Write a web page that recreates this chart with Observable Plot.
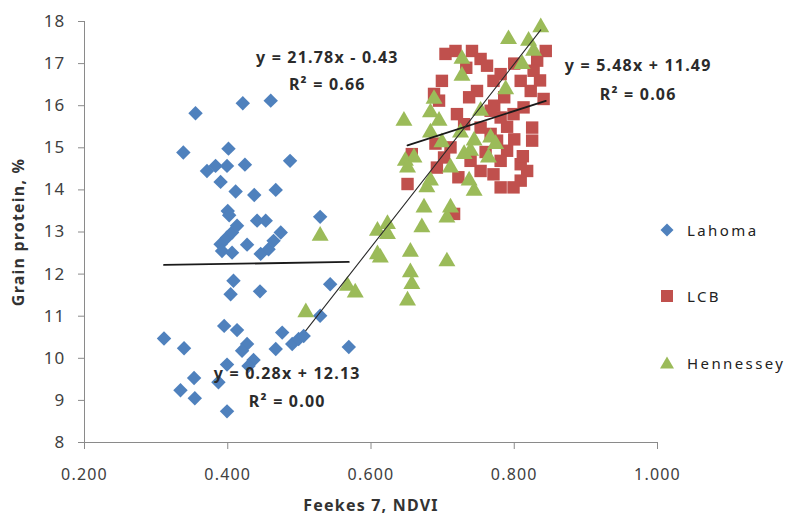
<!DOCTYPE html>
<html>
<head>
<meta charset="utf-8">
<script src="https://cdn.jsdelivr.net/npm/d3@7"></script>
<script src="https://cdn.jsdelivr.net/npm/@observablehq/plot@0.6"></script>
<style>
  body { margin: 0; background: #fff; }
  #chart { position: relative; width: 804px; height: 520px; font-family: "Noto Sans", sans-serif; }
  .legend-item { position: absolute; display: flex; align-items: center; font-size: 15px; letter-spacing: 2.4px; color: #222; white-space: nowrap; }
  .legend-item svg { margin-right: 13px; overflow: visible; }
</style>
</head>
<body>
<div id="chart"></div>
<script>
// Feekes 7 NDVI vs grain protein (%) for three wheat sites

const seriesNames = ["Lahoma", "LCB", "Hennessey"];

const lahomaNdvi = [0.355, 0.421, 0.460, 0.338, 0.401, 0.371, 0.383, 0.399, 0.424, 0.487,
  0.390, 0.411, 0.437, 0.467, 0.400, 0.402, 0.441, 0.453, 0.529, 0.390,
  0.399, 0.406, 0.413, 0.392, 0.406, 0.427, 0.446, 0.457, 0.464, 0.474,
  0.408, 0.404, 0.445, 0.543, 0.529, 0.311, 0.339, 0.395, 0.413, 0.427,
  0.420, 0.436, 0.429, 0.399, 0.467, 0.476, 0.490, 0.499, 0.506, 0.569,
  0.353, 0.334, 0.354, 0.387, 0.399];
const lahomaProtein = [15.82, 16.06, 16.12, 14.89, 14.98, 14.45, 14.57, 14.57, 14.60, 14.69,
  14.19, 13.96, 13.88, 14.00, 13.50, 13.40, 13.27, 13.27, 13.36, 12.71,
  12.87, 12.99, 13.15, 12.55, 12.51, 12.70, 12.48, 12.59, 12.79, 12.99,
  11.84, 11.52, 11.59, 11.76, 11.01, 10.47, 10.24, 10.77, 10.67, 10.34,
  10.18, 9.96, 9.82, 9.85, 10.22, 10.61, 10.34, 10.46, 10.53, 10.27,
  9.53, 9.24, 9.05, 9.43, 8.74];

const lcbNdvi = [0.704, 0.718, 0.741, 0.753, 0.762, 0.699, 0.688, 0.695, 0.748, 0.771,
  0.781, 0.809, 0.823, 0.841, 0.844, 0.832, 0.827, 0.720, 0.730, 0.767,
  0.781, 0.799, 0.813, 0.825, 0.825, 0.753, 0.767, 0.776, 0.790, 0.809,
  0.809, 0.818, 0.781, 0.771, 0.781, 0.753, 0.739, 0.692, 0.702, 0.711,
  0.651, 0.657, 0.716, 0.799, 0.760, 0.790, 0.800, 0.737, 0.733, 0.800,
  0.786, 0.690, 0.722, 0.772, 0.812, 0.836];
const lcbProtein = [17.23, 17.30, 17.30, 17.11, 16.95, 16.59, 16.28, 16.12, 16.35, 16.59,
  16.75, 16.59, 16.35, 16.16, 17.30, 17.07, 16.83, 15.80, 15.56, 15.88,
  15.72, 15.80, 15.96, 15.48, 15.17, 15.48, 15.33, 15.17, 14.93, 14.61,
  14.22, 14.45, 14.69, 14.37, 14.06, 14.45, 14.69, 14.53, 14.77, 15.01,
  14.14, 14.85, 13.43, 14.06, 14.90, 15.50, 15.20, 16.20, 16.90, 17.00,
  16.20, 15.10, 14.30, 16.00, 14.80, 16.60];

const hennesseyNdvi = [0.837, 0.792, 0.820, 0.827, 0.727, 0.727, 0.811, 0.788, 0.688, 0.683,
  0.695, 0.646, 0.753, 0.683, 0.699, 0.725, 0.744, 0.739, 0.730, 0.767,
  0.774, 0.764, 0.648, 0.660, 0.651, 0.678, 0.683, 0.711, 0.737, 0.744,
  0.711, 0.706, 0.674, 0.671, 0.623, 0.623, 0.655, 0.706, 0.655, 0.657,
  0.651, 0.613, 0.529, 0.609, 0.609, 0.567, 0.578, 0.509];
const hennesseyProtein = [17.86, 17.58, 17.54, 17.30, 17.11, 16.71, 16.99, 16.39, 16.16, 15.84,
  15.64, 15.64, 15.88, 15.36, 15.13, 15.36, 15.17, 14.93, 14.85, 15.24,
  15.09, 14.77, 14.69, 14.77, 14.53, 14.06, 14.22, 14.53, 14.22, 13.98,
  13.58, 13.34, 13.58, 13.11, 13.19, 12.95, 12.53, 12.30, 12.04, 11.76,
  11.37, 12.39, 12.91, 13.03, 12.47, 11.72, 11.56, 11.09];

// Linear trend lines: slope, intercept and R² for each site
const fitSlopes = [0.28, 5.48, 21.78];
const fitIntercepts = [12.13, 11.49, -0.43];
const fitR2 = ["0.00", "0.06", "0.66"];

// Where each equation label sits (data units): x, equation line y, R² line y
const labelNdvi = [0.483, 0.973, 0.539];
const labelEqProtein = [9.63, 16.95, 17.14];
const labelR2Protein = [8.97, 16.26, 16.50];

const xTicks = [0.2, 0.4, 0.6, 0.8, 1.0];
const yTicks = [8, 9, 10, 11, 12, 13, 14, 15, 16, 17, 18];

// Appearance
const colors = ["#4F81BD", "#C0504D", "#9BBB59"];
const symbols = ["diamond2", "square", "triangle"];
const markerR = {Lahoma: 6.5, LCB: 7.0, Hennessey: 6.3};
const lineWidth = {Lahoma: 1.8, LCB: 1.8, Hennessey: 1.1};
const lineColor = {Lahoma: "#1a1a1a", LCB: "#1a1a1a", Hennessey: "#2a2a2a"};

const ndviBySeries = [lahomaNdvi, lcbNdvi, hennesseyNdvi];
const proteinBySeries = [lahomaProtein, lcbProtein, hennesseyProtein];

const points = seriesNames.flatMap((name, s) =>
  ndviBySeries[s].map((x, i) => ({series: name, ndvi: x, protein: proteinBySeries[s][i]})));

const fits = seriesNames.flatMap((name, s) =>
  d3.extent(ndviBySeries[s]).map(x => ({series: name, ndvi: x, protein: fitSlopes[s] * x + fitIntercepts[s]})));

const fmt = v => v.toFixed(2);
const eqLabels = seriesNames.flatMap((name, s) => [
  {series: name, ndvi: labelNdvi[s], protein: labelEqProtein[s],
   text: fitIntercepts[s] < 0
     ? `y = ${fmt(fitSlopes[s])}x - ${fmt(-fitIntercepts[s])}`
     : `y = ${fmt(fitSlopes[s])}x + ${fmt(fitIntercepts[s])}`},
  {series: name, ndvi: labelNdvi[s], protein: labelR2Protein[s], text: `R² = ${fitR2[s]}`}
]);

const chart = Plot.plot({
  width: 804,
  height: 520,
  marginLeft: 84,
  marginRight: 147,
  marginTop: 21,
  marginBottom: 78,
  style: {fontFamily: "'Noto Sans', sans-serif", background: "#fff", letterSpacing: "1.2px"},
  x: {domain: [0.2, 1.0]},
  y: {domain: [8, 18]},
  color: {domain: seriesNames, range: colors},
  symbol: {domain: seriesNames, range: symbols},
  marks: [
    Plot.ruleX([0.2], {stroke: "#8a8a8a"}),
    Plot.ruleY([8], {stroke: "#8a8a8a"}),
    Plot.axisY({ticks: yTicks, tickSize: 6, tickPadding: 13, label: null,
      stroke: "#8a8a8a", color: "#404040", fontSize: 17}),
    Plot.axisX({ticks: xTicks, tickFormat: d3.format(".3f"), tickSize: 7, tickPadding: 19, label: null,
      stroke: "#8a8a8a", color: "#404040", fontSize: 16}),
    ...seriesNames.map(name =>
      Plot.dot(points.filter(d => d.series === name), {
        x: "ndvi", y: "protein", fill: "series", symbol: "series", r: markerR[name], stroke: "none"
      })),
    ...seriesNames.map(name =>
      Plot.line(fits.filter(d => d.series === name), {
        x: "ndvi", y: "protein", stroke: lineColor[name], strokeWidth: lineWidth[name]
      })),
    Plot.text(eqLabels, {x: "ndvi", y: "protein", text: "text", fontSize: 16, fontWeight: "bold",
      fill: "#2b2b2b", textAnchor: "middle"}),
    Plot.text(["Grain protein, %"], {frameAnchor: "left", textAnchor: "middle", rotate: -90, dx: -66,
      fontSize: 16, fontWeight: "bold", fill: "#333"}),
    Plot.text(["Feekes 7, NDVI"], {frameAnchor: "bottom", textAnchor: "middle", dy: 68,
      fontSize: 16, fontWeight: "bold", fill: "#333"})
  ]
});

const container = document.getElementById("chart");
container.appendChild(chart);

// Legend to the right of the plot area
const legendTops = [220, 286, 353];
const legendPaths = {
  diamond2: "M0,-6.5L6.5,0L0,6.5L-6.5,0Z",
  square: "M-6,-6H6V6H-6Z",
  triangle: "M0,-6.5L7,5.5L-7,5.5Z"
};
seriesNames.forEach((name, i) => {
  const item = document.createElement("div");
  item.className = "legend-item";
  item.style.left = "660px";
  item.style.top = legendTops[i] + "px";
  item.innerHTML = `<svg width="14" height="18" viewBox="-7 -9 14 18"><path d="${legendPaths[symbols[i]]}" fill="${colors[i]}"/></svg><span>${name}</span>`;
  container.appendChild(item);
});
</script>
</body>
</html>
